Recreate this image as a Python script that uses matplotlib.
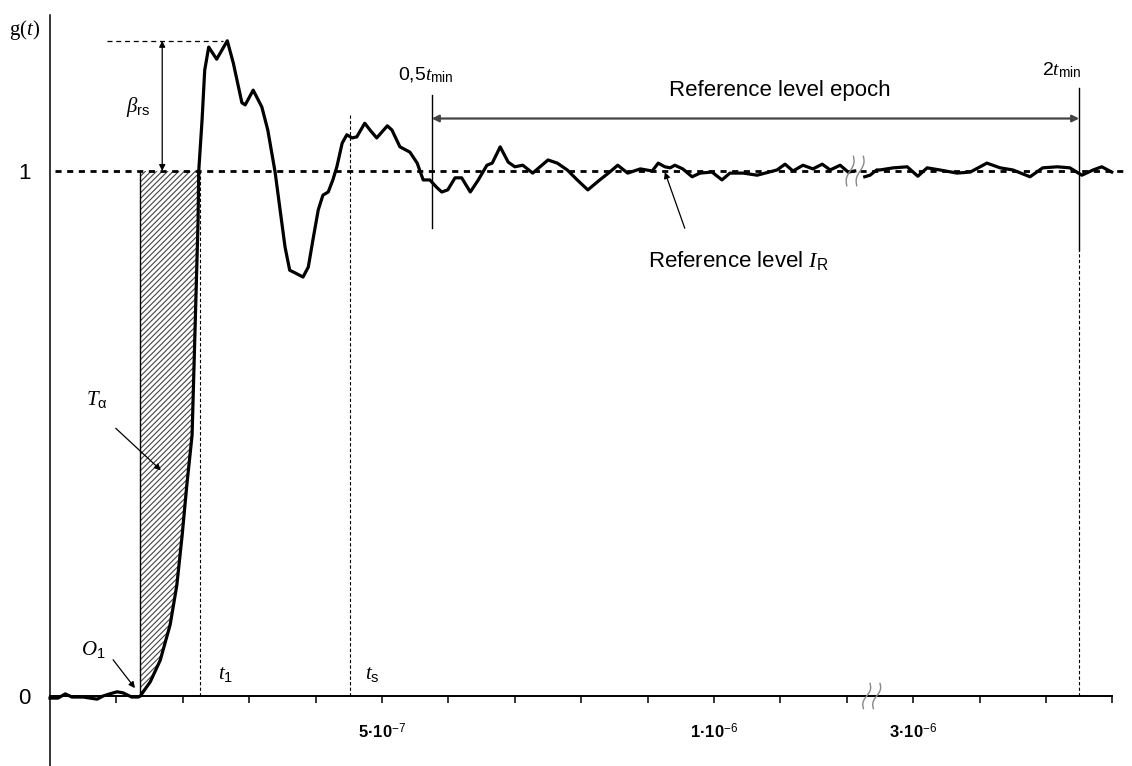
import numpy as np
import matplotlib.pyplot as plt

plt.rcParams['font.family'] = 'Liberation Sans'
plt.rcParams['mathtext.fontset'] = 'custom'
plt.rcParams['mathtext.rm'] = 'Liberation Sans'
plt.rcParams['mathtext.it'] = 'Liberation Serif:italic'
plt.rcParams['mathtext.bf'] = 'Liberation Sans:bold'
plt.rcParams['mathtext.sf'] = 'Liberation Serif'
plt.rcParams['hatch.linewidth'] = 0.8
plt.rcParams['hatch.color'] = '#444444'

# step response g(t), time in ns (part before the axis break)
t_early = [0, 12, 23, 33, 50, 71, 80, 90, 101, 110, 123, 133, 136,
           151, 166, 181, 191, 199, 206, 214, 217, 220, 223, 224,
           229, 233, 239, 251, 267, 276, 289, 294, 306, 319,
           328, 339, 346, 354, 361, 369, 381, 389, 396, 404,
           411, 419, 426, 432, 440, 447, 455, 462, 474, 482,
           492, 508, 515, 527, 542, 553, 562, 572, 583,
           590, 599, 610, 620, 633, 645, 658, 666, 678, 690,
           700, 712, 727, 738, 750, 764, 779, 794, 810, 828,
           843, 855, 870, 889, 907, 916,
           926, 934, 941, 953, 967, 979, 997, 1012, 1024, 1044,
           1065, 1077, 1095, 1107, 1119, 1134, 1149, 1163, 1175, 1190,
           1202, 1212]
g_early = [-0.004, -0.004, 0.004, -0.002, -0.002, -0.006, 0.0, 0.004, 0.008, 0.006, -0.002, -0.002, 0.0,
           0.027, 0.068, 0.136, 0.211, 0.306, 0.401, 0.497, 0.633, 0.769, 0.905, 1.0,
           1.097, 1.192, 1.236, 1.213, 1.248, 1.206, 1.130, 1.126, 1.154, 1.122,
           1.078, 0.998, 0.931, 0.855, 0.811, 0.806, 0.798, 0.817, 0.869, 0.926,
           0.954, 0.960, 0.983, 1.008, 1.053, 1.069, 1.063, 1.065, 1.091, 1.078,
           1.063, 1.086, 1.078, 1.046, 1.036, 1.015, 0.983, 0.983, 0.968,
           0.960, 0.964, 0.987, 0.987, 0.960, 0.983, 1.011, 1.015, 1.046, 1.017,
           1.008, 1.011, 0.996, 1.008, 1.021, 1.015, 1.002, 0.983, 0.964, 0.983,
           0.998, 1.011, 0.996, 1.004, 1.000, 1.015,
           1.008, 1.006, 1.011, 1.004, 0.989, 0.996, 0.998, 0.983, 0.996, 0.996,
           0.992, 0.996, 1.002, 1.013, 1.000, 1.011, 1.004, 1.013, 1.002, 1.011,
           0.998, 1.0]

# part after the axis break (ns)
t_late = [2927, 2935, 2945, 2950, 2970, 2991, 3007, 3021, 3040, 3066, 3086,
          3111, 3131, 3150, 3176, 3195, 3217, 3236, 3254, 3271, 3284, 3299]
g_late = [0.989, 0.992, 1.002, 1.002, 1.006, 1.008, 0.990, 1.006, 1.002, 0.996, 0.998,
          1.015, 1.006, 1.002, 0.989, 1.006, 1.008, 1.006, 0.992, 1.002, 1.008, 0.998]

# characteristic times (ns)
t_O1 = 136
t_1 = 226
t_s = 452
t_half_min = 575
t_2min = 3250

tick_pos = list(range(1, 17))
tick_text = {5: r'$\mathbf{5·10}^{-7}$', 10: r'$\mathbf{1·10}^{-6}$', 13: r'$\mathbf{3·10}^{-6}$'}

CUT = 1700  # skipped stretch of time on the axis (ns)


def to_u(t):
    t = np.asarray(t, dtype=float)
    return np.where(t > 2000, (t - CUT) / 100.0, t / 100.0)


fig = plt.figure(figsize=(11.32, 7.66), dpi=100)
ax = fig.add_axes([0, 0, 1, 1])
ax.set_xlim(-50 / 66.4, 1082 / 66.4)
ax.set_ylim(-70 / 525, 696 / 525)

for s in ['top', 'right']:
    ax.spines[s].set_visible(False)
ax.spines['left'].set_position(('data', 0))
ax.spines['bottom'].set_position(('data', 0))
ax.spines['left'].set_bounds(-70 / 525, 1.297)
ax.spines['bottom'].set_bounds(0, 16)
ax.spines['left'].set_linewidth(1.1)
ax.spines['bottom'].set_linewidth(1.4)

ax.set_xticks(tick_pos)
ax.set_xticklabels([tick_text.get(p, '') for p in tick_pos], fontsize=12)
ax.tick_params(axis='x', direction='out', length=5, width=1.1, pad=14)
ax.set_yticks([0, 1])
ax.set_yticklabels(['0', '1'], fontsize=16)
ax.tick_params(axis='y', length=0, pad=14)

u1 = to_u(t_early)
u2 = to_u(t_late)

# reference level
ax.plot([0.08, 16.2], [1.0, 1.0], color='black', lw=2.0, linestyle=(0, (2.2, 2.0)), zorder=2)

# hatched area above the rise
i1 = t_early.index(224)
iO = t_early.index(t_O1)
ax.fill_between(u1[iO:i1 + 1], g_early[iO:i1 + 1], 1.0, facecolor='white',
                edgecolor='#444444', hatch='/' * 6, lw=0, zorder=1)
ax.plot([to_u(t_O1)] * 2, [0, 1], color='black', lw=1.0, zorder=2)

ax.plot(u1, g_early, color='black', lw=2.3, zorder=4, solid_joinstyle='round')
ax.plot(u2, g_late, color='black', lw=2.3, zorder=4, solid_joinstyle='round')

# break marks on curve and axis
s = np.linspace(-1, 1, 30)
for uc in [12.05, 12.2]:
    ax.plot(uc + 0.05 * s + 0.03 * np.sin(np.pi * s), 1 + 0.028 * s, color='#888888', lw=1.0, zorder=5)
for uc in [12.3, 12.45]:
    ax.plot(uc + 0.05 * s + 0.03 * np.sin(np.pi * s), 0.024 * s, color='#888888', lw=1.0, zorder=5)

g_peak = max(g_early)
ax.plot([0.86, 2.6], [g_peak, g_peak], color='black', lw=0.9, linestyle=(0, (4, 3)))
ax.annotate('', xy=(1.69, 1.0), xytext=(1.69, g_peak),
            arrowprops=dict(arrowstyle='<|-|>', color='black', lw=0.9, mutation_scale=9,
                            shrinkA=0, shrinkB=0))
ax.text(1.33, 1.122, r'$\beta_{\mathrm{rs}}$', fontsize=15, ha='center', va='center')

# time markers
ax.plot([to_u(t_1)] * 2, [0, 1.0], color='black', lw=0.8, linestyle=(0, (3, 2)))
ax.plot([to_u(t_s)] * 2, [0, 1.107], color='black', lw=0.8, linestyle=(0, (3, 2)))
ax.plot([to_u(t_half_min)] * 2, [0.891, 1.145], color='black', lw=1.0)
ax.plot([to_u(t_2min)] * 2, [0.85, 1.158], color='black', lw=1.0)
ax.plot([to_u(t_2min)] * 2, [0, 0.85], color='black', lw=0.8, linestyle=(0, (3, 2)))

ax.text(2.64, 0.04, r'$t_1$', fontsize=15, ha='center', va='center')
ax.text(4.85, 0.04, r'$t_{\mathrm{s}}$', fontsize=15, ha='center', va='center')
ax.text(5.66, 1.183, r'0,5$t_{\mathrm{min}}$', fontsize=14, ha='center', va='center')
ax.text(15.24, 1.192, r'2$t_{\mathrm{min}}$', fontsize=14, ha='center', va='center')

ax.annotate('', xy=(to_u(t_half_min), 1.100), xytext=(to_u(t_2min), 1.100),
            arrowprops=dict(arrowstyle='<|-|>', color='#444444', lw=1.6, mutation_scale=10,
                            shrinkA=0, shrinkB=0))
ax.text(10.99, 1.154, 'Reference level epoch', fontsize=16, ha='center', va='center')

ax.annotate('', xy=(9.26, 0.998), xytext=(9.56, 0.891),
            arrowprops=dict(arrowstyle='-|>', color='black', lw=0.9, mutation_scale=9,
                            shrinkA=0, shrinkB=0))
ax.text(10.36, 0.830, r'Reference level $I_{\mathrm{R}}$', fontsize=16, ha='center', va='center')

ax.text(0.71, 0.564, r'$T_{\mathrm{\alpha}}$', fontsize=15, ha='center', va='center')
ax.annotate('', xy=(1.67, 0.430), xytext=(0.99, 0.510),
            arrowprops=dict(arrowstyle='-|>', color='black', lw=0.9, mutation_scale=9,
                            shrinkA=0, shrinkB=0))

ax.text(0.65, 0.088, r'$O_1$', fontsize=15, ha='center', va='center')
ax.annotate('', xy=(1.28, 0.015), xytext=(0.95, 0.069),
            arrowprops=dict(arrowstyle='-|>', color='black', lw=0.9, mutation_scale=9,
                            shrinkA=0, shrinkB=0))

ax.text(-0.39, 1.269, r'$\mathsf{g(}t\mathsf{)}$', fontsize=15, ha='center', va='center')

fig.savefig('out.png', dpi=100)
